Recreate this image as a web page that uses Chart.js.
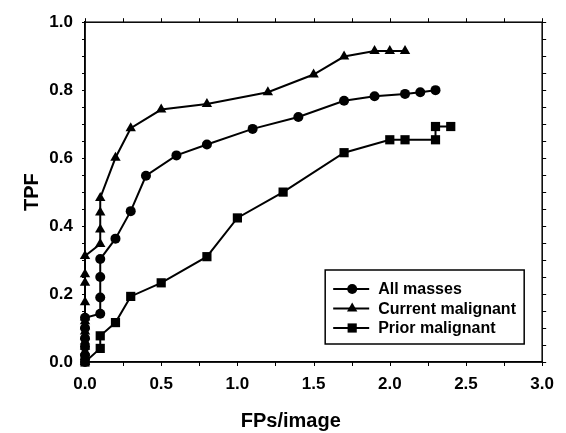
<!DOCTYPE html>
<html>
<head>
<meta charset="utf-8">
<script src="https://cdn.jsdelivr.net/npm/chart.js@4/dist/chart.umd.min.js"></script>
<style>
    body { margin: 0; background: #fff; }
    #wrap { width: 566px; height: 433px; }
</style>
</head>
<body>
<div id="wrap"><canvas id="myChart" width="566" height="433"></canvas></div>
<script>
// values
var seriesNames = ["All masses", "Current malignant", "Prior malignant"];

var allMassesX = [0, 0, 0, 0, 0, 0, 0.1, 0.1, 0.1, 0.1, 0.2, 0.3, 0.4, 0.6, 0.8, 1.1, 1.4, 1.7, 1.9, 2.1, 2.2, 2.3];
var allMassesY = [0, 0.02, 0.045, 0.07, 0.1, 0.13, 0.142, 0.19, 0.25, 0.303, 0.363, 0.444, 0.548, 0.608, 0.640, 0.686, 0.721, 0.769, 0.782, 0.789, 0.794, 0.800];

var currentX = [0, 0, 0, 0, 0, 0, 0, 0, 0, 0, 0, 0, 0, 0, 0.1, 0.1, 0.1, 0.1, 0.2, 0.3, 0.5, 0.8, 1.2, 1.5, 1.7, 1.9, 2.0, 2.1];
var currentY = [0, 0.015, 0.03, 0.045, 0.06, 0.075, 0.09, 0.105, 0.12, 0.131, 0.176, 0.233, 0.258, 0.312, 0.347, 0.39, 0.44, 0.483, 0.601, 0.688, 0.743, 0.759, 0.794, 0.846, 0.899, 0.915, 0.915, 0.915];

var priorX = [0, 0.1, 0.1, 0.2, 0.3, 0.5, 0.8, 1.0, 1.3, 1.7, 2.0, 2.1, 2.3, 2.3, 2.4];
var priorY = [0, 0.04, 0.077, 0.116, 0.193, 0.233, 0.310, 0.424, 0.500, 0.616, 0.654, 0.654, 0.654, 0.693, 0.693];

var xTitle = "FPs/image";
var yTitle = "TPF";

var fontFamily = "'Liberation Sans', Arial, Helvetica, sans-serif";

function toPoints(xs, ys)
{
    var pts = [];
    for (var i = 0; i < xs.length; i++)
    {
        pts.push({ x: xs[i], y: ys[i] });
    }
    return pts;
}

function makeSet(label, xs, ys, style, radius, order)
{
    return {
        label: label,
        data: toPoints(xs, ys),
        order: order,
        showLine: true,
        tension: 0,
        borderColor: "#000",
        borderWidth: 2,
        backgroundColor: "#000",
        pointBackgroundColor: "#000",
        pointBorderColor: "#000",
        pointBorderWidth: 0,
        pointStyle: style,
        pointRadius: radius,
        pointHoverRadius: radius,
        clip: false
    };
}

// marker shapes for the legend
function drawMarker(ctx, style, x, y, r)
{
    ctx.beginPath();
    if (style == "circle")
    {
        ctx.arc(x, y, r, 0, Math.PI * 2);
    }
    else if (style == "triangle")
    {
        ctx.moveTo(x, y - r);
        ctx.lineTo(x + r * 0.866, y + r * 0.5);
        ctx.lineTo(x - r * 0.866, y + r * 0.5);
        ctx.closePath();
    }
    else
    {
        var s = r * Math.SQRT1_2;
        ctx.rect(x - s, y - s, 2 * s, 2 * s);
    }
    ctx.fill();
}

// frame, small ticks, axis titles and legend box
var framePlugin = {
    id: "frame",
    afterDraw: function (chart)
    {
        var ctx = chart.ctx;
        var a = chart.chartArea;
        var xs = chart.scales.x;
        var ys = chart.scales.y;
        ctx.save();
        ctx.strokeStyle = "#000";
        ctx.lineWidth = 1.5;
        ctx.strokeRect(a.left, a.top, a.right - a.left, a.bottom - a.top);

        ctx.lineWidth = 1;
        for (var v = 0; v <= 3.0001; v += 0.25)
        {
            var px = Math.round(xs.getPixelForValue(v)) + 0.5;
            ctx.beginPath();
            ctx.moveTo(px, a.bottom); ctx.lineTo(px, a.bottom + 4);
            ctx.moveTo(px, a.top); ctx.lineTo(px, a.top - 4);
            ctx.stroke();
        }
        for (var w = 0; w <= 1.0001; w += 0.05)
        {
            var py = Math.round(ys.getPixelForValue(w)) + 0.5;
            ctx.beginPath();
            ctx.moveTo(a.left, py); ctx.lineTo(a.left - 3, py);
            ctx.moveTo(a.right, py); ctx.lineTo(a.right + 4, py);
            ctx.stroke();
        }

        // axis titles
        ctx.fillStyle = "#000";
        ctx.font = "bold 20px " + fontFamily;
        ctx.textAlign = "center";
        ctx.textBaseline = "middle";
        ctx.fillText(xTitle, xs.getPixelForValue(1.35), 421);
        ctx.save();
        ctx.translate(32, ys.getPixelForValue(0.5));
        ctx.rotate(-Math.PI / 2);
        ctx.fillText(yTitle, 0, 0);
        ctx.restore();

        // legend
        var bx = a.right - 217, by = a.bottom - 92, bw = 199, bh = 74;
        ctx.lineWidth = 1.5;
        ctx.strokeRect(bx, by, bw, bh);
        ctx.font = "bold 16px " + fontFamily;
        ctx.textAlign = "left";
        var sets = chart.data.datasets;
        for (var i = 0; i < sets.length; i++)
        {
            var ly = by + 19 + i * 19.5;
            ctx.lineWidth = 2;
            ctx.beginPath();
            ctx.moveTo(bx + 8, ly); ctx.lineTo(bx + 44, ly);
            ctx.stroke();
            drawMarker(ctx, sets[i].pointStyle, bx + 27, ly, sets[i].pointRadius);
            ctx.fillText(sets[i].label, bx + 53, ly + 1);
        }
        ctx.restore();
    }
};

var chart = new Chart(document.getElementById("myChart").getContext("2d"), {
    type: "scatter",
    data: {
        datasets: [
            makeSet(seriesNames[0], allMassesX, allMassesY, "circle", 5, 1),
            makeSet(seriesNames[1], currentX, currentY, "triangle", 6, 0),
            makeSet(seriesNames[2], priorX, priorY, "rect", 6.5, 2)
        ]
    },
    options: {
        responsive: false,
        animation: false,
        events: [],
        layout: { padding: { left: 0, top: 15, right: 19, bottom: 0 } },
        plugins: {
            legend: { display: false },
            tooltip: { enabled: false }
        },
        scales: {
            x: {
                type: "linear",
                min: 0,
                max: 3,
                afterFit: function (scale) { scale.height = 71; },
                grid: { display: false, drawTicks: false },
                border: { display: true, color: "#000", width: 1.5 },
                ticks: {
                    stepSize: 0.5,
                    padding: 12,
                    color: "#000",
                    font: { family: fontFamily, size: 17, weight: "bold" },
                    callback: function (v) { return Number(v).toFixed(1); }
                }
            },
            y: {
                type: "linear",
                min: 0,
                max: 1,
                afterFit: function (scale) { scale.width = 85; },
                grid: { display: false, drawTicks: false },
                border: { display: true, color: "#000", width: 1.5 },
                ticks: {
                    stepSize: 0.2,
                    padding: 12,
                    color: "#000",
                    font: { family: fontFamily, size: 17, weight: "bold" },
                    callback: function (v) { return Number(v).toFixed(1); }
                }
            }
        }
    },
    plugins: [framePlugin]
});
</script>
</body>
</html>
